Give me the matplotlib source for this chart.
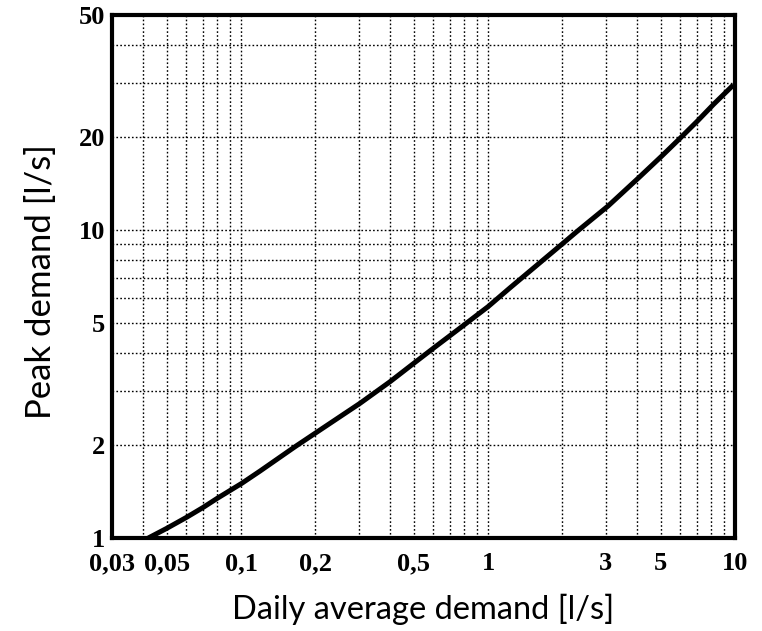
import matplotlib
matplotlib.use("Agg")
import matplotlib.pyplot as plt
from matplotlib.ticker import FixedLocator, FixedFormatter, LogLocator, NullFormatter

# Peak demand curve as (daily average, peak) pairs in l/s
daily_avg = [0.0421, 0.050, 0.0602, 0.0703, 0.0801, 0.1006, 0.1193, 0.1654, 0.2087,
             0.3031, 0.4011, 0.5016, 0.6004, 0.7943, 1.0, 1.228, 2.013, 2.287, 3.062,
             4.052, 5.067, 5.993, 7.003, 8.176, 9.85]
peak = [1.0, 1.075, 1.168, 1.258, 1.346, 1.505, 1.65, 1.980, 2.243,
        2.739, 3.220, 3.70, 4.134, 4.90, 5.643, 6.50, 9.07, 9.89, 11.98,
        14.74, 17.45, 19.89, 22.51, 25.6, 29.63]

x_ticks = [0.03, 0.05, 0.1, 0.2, 0.5, 1, 3, 5, 10]
x_tick_labels = ["0,03", "0,05", "0,1", "0,2", "0,5", "1", "3", "5", "10"]
y_ticks = [1, 2, 5, 10, 20, 50]
y_tick_labels = ["1", "2", "5", "10", "20", "50"]

fig = plt.figure(figsize=(7.62, 6.31), dpi=100)
ax = fig.add_axes([112 / 762, 93 / 631, 623 / 762, 523 / 631])

ax.plot(daily_avg, peak, color="black", linewidth=3.6, solid_capstyle="butt",
        solid_joinstyle="round", zorder=3)

ax.set_xscale("log")
ax.set_yscale("log")
ax.set_xlim(0.03, 10)
ax.set_ylim(1, 50)

# Labelled positions
ax.xaxis.set_major_locator(FixedLocator(x_ticks))
ax.xaxis.set_major_formatter(FixedFormatter(x_tick_labels))
ax.yaxis.set_major_locator(FixedLocator(y_ticks))
ax.yaxis.set_major_formatter(FixedFormatter(y_tick_labels))

# Dotted log grid at every 1..9 step of each decade
ax.xaxis.set_minor_locator(LogLocator(base=10, subs=range(1, 10), numticks=50))
ax.yaxis.set_minor_locator(LogLocator(base=10, subs=range(1, 10), numticks=50))
ax.xaxis.set_minor_formatter(NullFormatter())
ax.yaxis.set_minor_formatter(NullFormatter())
ax.xaxis.remove_overlapping_locs = False
ax.yaxis.remove_overlapping_locs = False
ax.grid(True, which="minor", color="black", linestyle=(0, (1.2, 1.6)), linewidth=1.0)
ax.grid(False, which="major")

ax.tick_params(which="both", length=0)
ax.tick_params(axis="x", which="major", pad=10)
ax.tick_params(axis="y", which="major", pad=5)
for lab in ax.get_xticklabels() + ax.get_yticklabels():
    lab.set_fontfamily("Liberation Serif")
    lab.set_fontweight("bold")
    lab.set_fontsize(19)

for side in ["left", "bottom", "right", "top"]:
    ax.spines[side].set_linewidth(3.0)
    ax.spines[side].set_color("black")

fig.text(423 / 762, 1 - 609 / 631, "Daily average demand [l/s]", ha="center", va="center",
         fontsize=23.5, family="Lato")
fig.text(41 / 762, 1 - 282 / 631, "Peak demand [l/s]", ha="center", va="center",
         rotation=90, fontsize=25, family="Lato")

fig.savefig("out.png", dpi=100)
